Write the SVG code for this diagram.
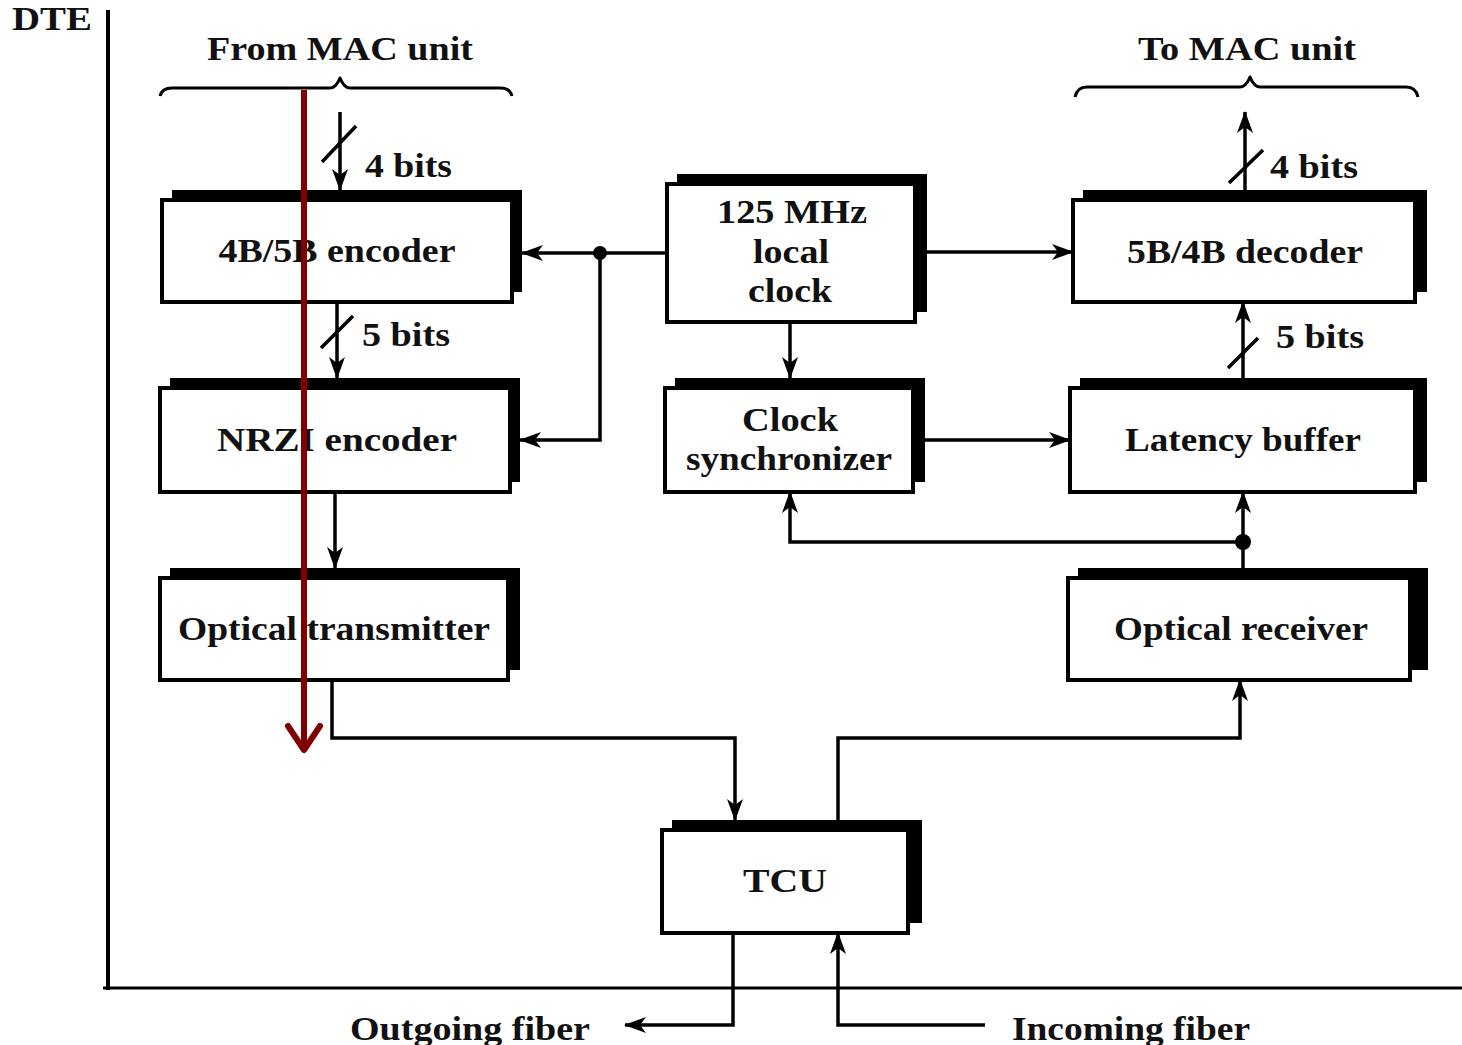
<svg xmlns="http://www.w3.org/2000/svg" width="1462" height="1045" viewBox="0 0 1462 1045">
<defs>
<style>
.shadow{fill:#000}
.box{fill:#fff;stroke:#000;stroke-width:4}
.t{font-family:"Liberation Serif","Times New Roman",serif;font-weight:bold;font-size:34px;fill:#111;text-anchor:middle}
.tl{font-family:"Liberation Serif","Times New Roman",serif;font-weight:bold;font-size:33px;fill:#111;text-anchor:start}
.c{fill:none;stroke:#000;stroke-width:3.5}
.br{fill:none;stroke:#000;stroke-width:3;stroke-linejoin:round}
</style>
<marker id="ah" markerWidth="22" markerHeight="18" refX="21" refY="9" orient="auto" markerUnits="userSpaceOnUse">
<path d="M0,1 L22,9 L0,17 L6,9 Z" fill="#000"/>
</marker>
<marker id="red" markerWidth="40" markerHeight="40" refX="30" refY="20" orient="auto" markerUnits="userSpaceOnUse">
<path d="M6,4 L30,20 L6,36" fill="none" stroke="#800000" stroke-width="6" stroke-linecap="round" stroke-linejoin="round"/>
</marker>
</defs>
<rect width="1462" height="1045" fill="#fff"/>

<g id="frame">
<line x1="108" y1="10" x2="108" y2="990" stroke="#000" stroke-width="4"/>
<line x1="103" y1="988" x2="1462" y2="988" stroke="#000" stroke-width="3"/>
<text class="tl" x="12" y="30" font-size="28" textLength="80" lengthAdjust="spacingAndGlyphs">DTE</text>
</g>

<g id="from-mac">
<text class="t" x="340" y="60" textLength="266" lengthAdjust="spacingAndGlyphs">From MAC unit</text>
<path class="br" d="M160,96 Q162,88 172,88 L330,88 Q336,88 340,78 Q344,88 350,88 L500,88 Q510,88 512,96"/>
</g>
<g id="to-mac">
<text class="t" x="1247" y="60" textLength="218" lengthAdjust="spacingAndGlyphs">To MAC unit</text>
<path class="br" d="M1075,97 Q1077,87 1087,87 L1240,87 Q1246,87 1250,77 Q1254,87 1260,87 L1406,87 Q1416,87 1418,97"/>
</g>

<g id="encoder4b5b">
<rect class="shadow" x="172" y="190" width="350" height="102"/>
<rect class="box" x="162" y="200" width="350" height="102"/>
<text class="t" x="337" y="262" textLength="237" lengthAdjust="spacingAndGlyphs">4B/5B encoder</text>
</g>
<g id="nrzi">
<rect class="shadow" x="170" y="378" width="350" height="104"/>
<rect class="box" x="160" y="388" width="350" height="104"/>
<text class="t" x="337" y="451" textLength="240" lengthAdjust="spacingAndGlyphs">NRZI encoder</text>
</g>
<g id="optical-transmitter">
<rect class="shadow" x="170" y="568" width="350" height="102"/>
<rect class="box" x="160" y="578" width="348" height="102"/>
<text class="t" x="334" y="640" textLength="312" lengthAdjust="spacingAndGlyphs">Optical transmitter</text>
</g>
<g id="local-clock">
<rect class="shadow" x="677" y="174" width="250" height="138"/>
<rect class="box" x="667" y="184" width="248" height="138"/>
<text class="t" x="792" y="223" textLength="150" lengthAdjust="spacingAndGlyphs">125 MHz</text>
<text class="t" x="791" y="263" textLength="76" lengthAdjust="spacingAndGlyphs">local</text>
<text class="t" x="790" y="302" textLength="84" lengthAdjust="spacingAndGlyphs">clock</text>
</g>
<g id="clock-sync">
<rect class="shadow" x="675" y="378" width="250" height="104"/>
<rect class="box" x="665" y="388" width="248" height="104"/>
<text class="t" x="790" y="431" textLength="96" lengthAdjust="spacingAndGlyphs">Clock</text>
<text class="t" x="789" y="470" textLength="206" lengthAdjust="spacingAndGlyphs">synchronizer</text>
</g>
<g id="decoder5b4b">
<rect class="shadow" x="1083" y="190" width="344" height="102"/>
<rect class="box" x="1073" y="200" width="342" height="102"/>
<text class="t" x="1245" y="263" textLength="236" lengthAdjust="spacingAndGlyphs">5B/4B decoder</text>
</g>
<g id="latency-buffer">
<rect class="shadow" x="1080" y="378" width="347" height="104"/>
<rect class="box" x="1070" y="388" width="345" height="104"/>
<text class="t" x="1243" y="451" textLength="236" lengthAdjust="spacingAndGlyphs">Latency buffer</text>
</g>
<g id="optical-receiver">
<rect class="shadow" x="1078" y="568" width="350" height="102"/>
<rect class="box" x="1068" y="578" width="342" height="102"/>
<text class="t" x="1241" y="640" textLength="254" lengthAdjust="spacingAndGlyphs">Optical receiver</text>
</g>
<g id="tcu">
<rect class="shadow" x="672" y="820" width="250" height="103"/>
<rect class="box" x="662" y="830" width="246" height="103"/>
<text class="t" x="785" y="892" textLength="84" lengthAdjust="spacingAndGlyphs">TCU</text>
</g>

<g id="connectors">
<line class="c" x1="340" y1="112" x2="340" y2="190" marker-end="url(#ah)"/>
<line class="c" x1="322" y1="162" x2="356" y2="126"/>
<text class="tl" x="365" y="177" textLength="87" lengthAdjust="spacingAndGlyphs">4 bits</text>

<line class="c" x1="337" y1="302" x2="337" y2="378" marker-end="url(#ah)"/>
<line class="c" x1="321" y1="348" x2="353" y2="316"/>
<text class="tl" x="362" y="346" textLength="88" lengthAdjust="spacingAndGlyphs">5 bits</text>

<line class="c" x1="335" y1="492" x2="335" y2="568" marker-end="url(#ah)"/>

<polyline class="c" points="332,680 332,738 735,738 735,820" marker-end="url(#ah)"/>
<polyline class="c" points="838,820 838,738 1240,738 1240,680" marker-end="url(#ah)"/>

<polyline class="c" points="733,933 733,1025 625,1025" marker-end="url(#ah)"/>
<polyline class="c" points="985,1025 838,1025 838,933" marker-end="url(#ah)"/>

<line class="c" x1="667" y1="253" x2="522" y2="253" marker-end="url(#ah)"/>
<circle cx="600" cy="253" r="7" fill="#000"/>
<polyline class="c" points="600,253 600,440 520,440" marker-end="url(#ah)"/>

<line class="c" x1="927" y1="252" x2="1073" y2="252" marker-end="url(#ah)"/>
<line class="c" x1="790" y1="322" x2="790" y2="378" marker-end="url(#ah)"/>
<line class="c" x1="925" y1="440" x2="1070" y2="440" marker-end="url(#ah)"/>

<line class="c" x1="1243" y1="568" x2="1243" y2="492" marker-end="url(#ah)"/>
<circle cx="1243" cy="542" r="8" fill="#000"/>
<polyline class="c" points="1243,542 790,542 790,492" marker-end="url(#ah)"/>

<line class="c" x1="1243" y1="378" x2="1243" y2="302" marker-end="url(#ah)"/>
<line class="c" x1="1228" y1="368" x2="1258" y2="338"/>
<text class="tl" x="1276" y="348" textLength="88" lengthAdjust="spacingAndGlyphs">5 bits</text>

<line class="c" x1="1245" y1="190" x2="1245" y2="112" marker-end="url(#ah)"/>
<line class="c" x1="1229" y1="183" x2="1263" y2="150"/>
<text class="tl" x="1270" y="178" textLength="88" lengthAdjust="spacingAndGlyphs">4 bits</text>
</g>

<g id="fiber-labels">
<text class="tl" x="350" y="1040" textLength="240" lengthAdjust="spacingAndGlyphs">Outgoing fiber</text>
<text class="tl" x="1012" y="1040" textLength="238" lengthAdjust="spacingAndGlyphs">Incoming fiber</text>
</g>

<g id="red-arrow">
<line x1="304" y1="90" x2="304" y2="750" stroke="#800000" stroke-width="6" marker-end="url(#red)"/>
</g>
</svg>
